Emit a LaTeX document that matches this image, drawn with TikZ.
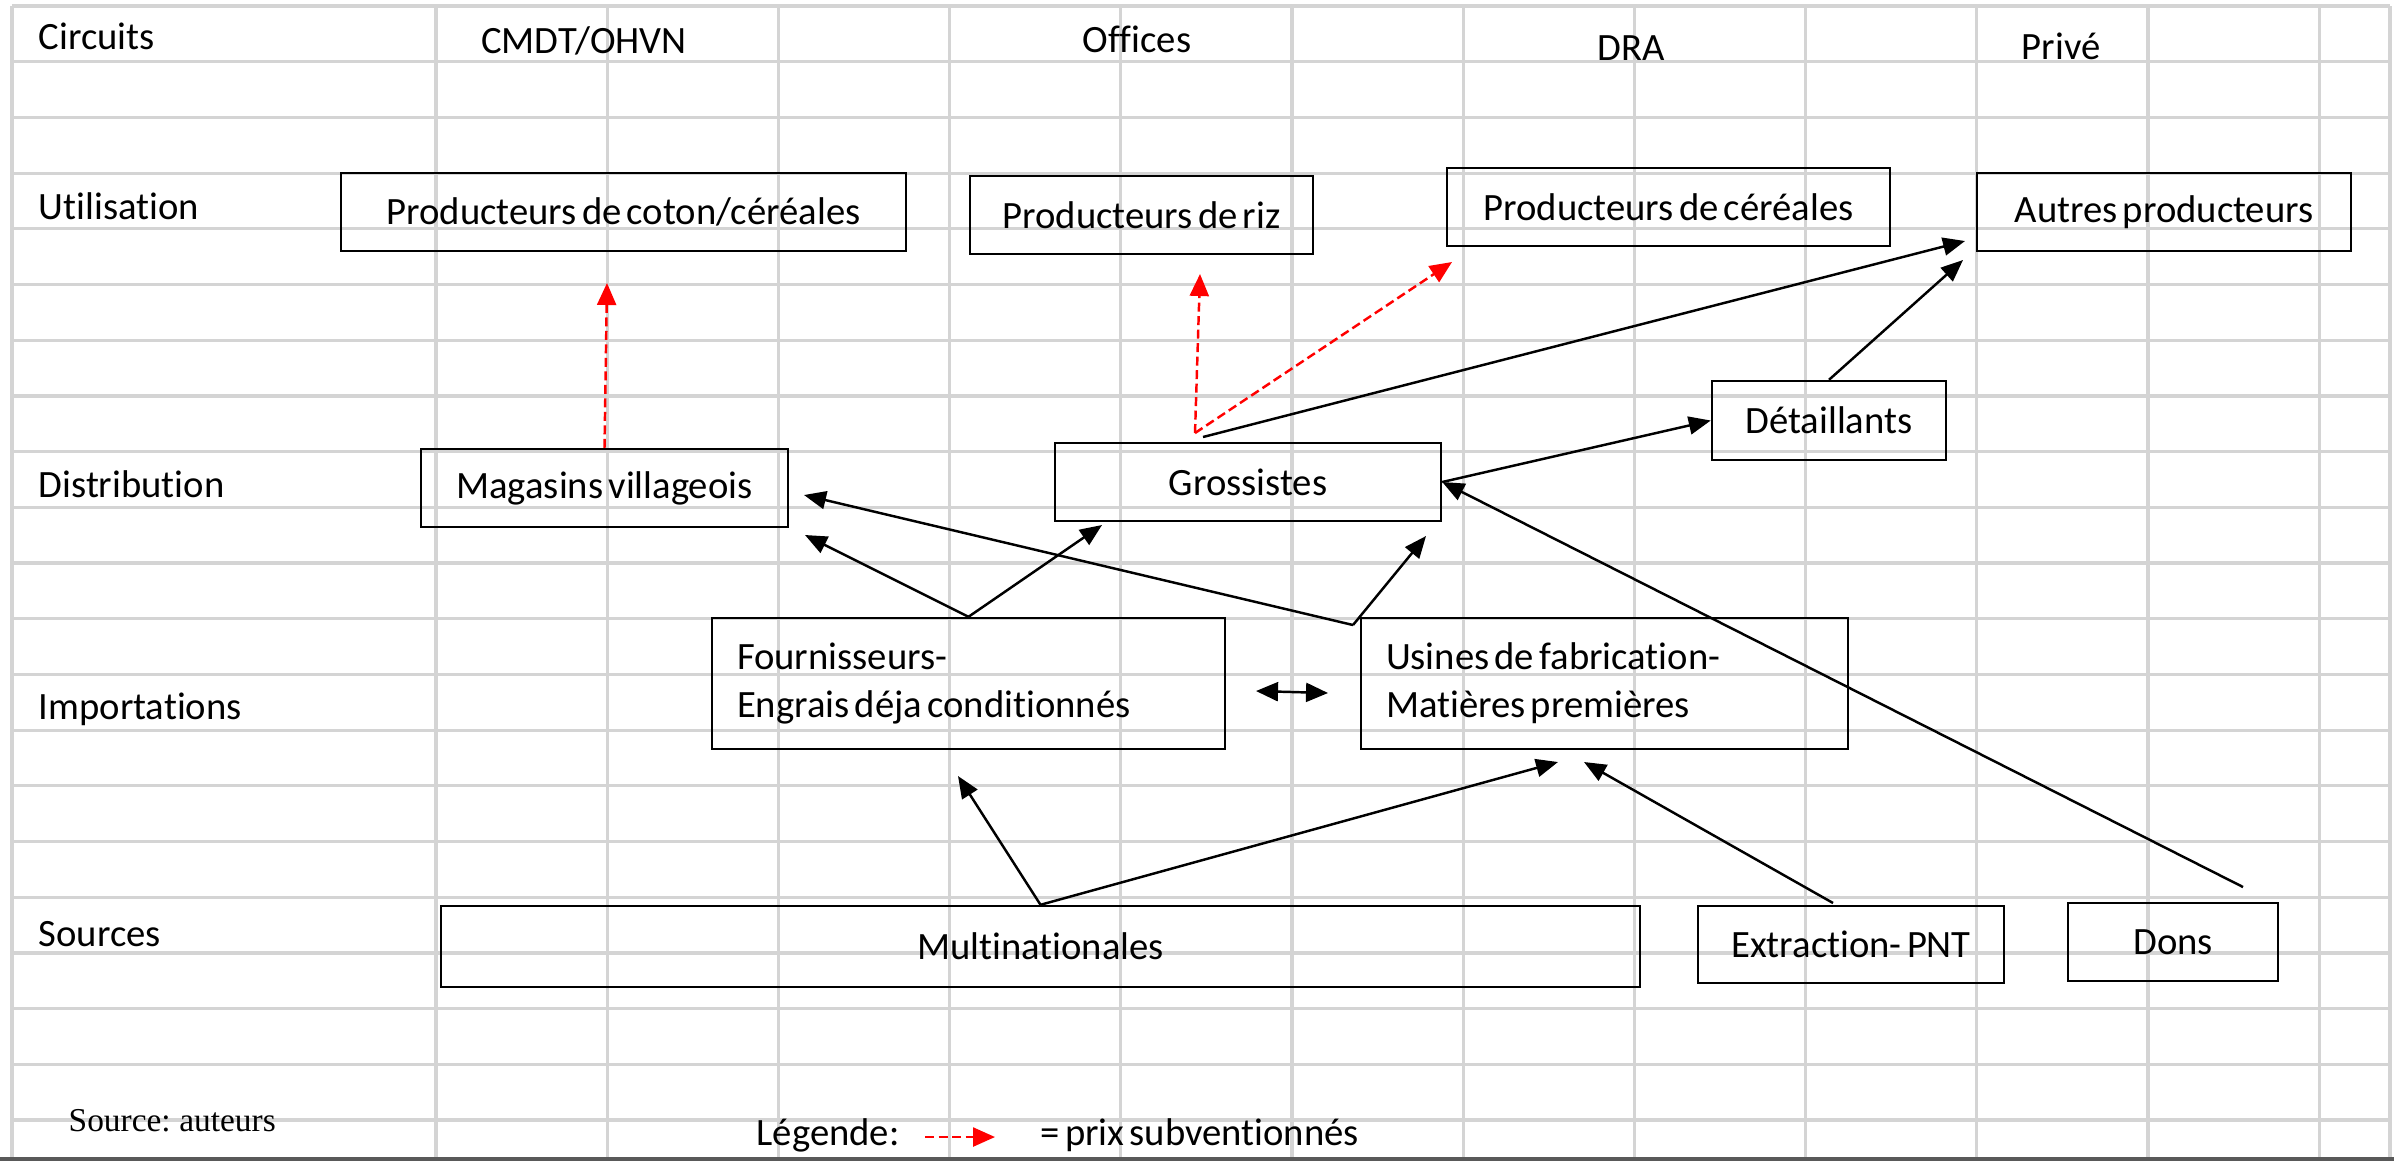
\documentclass[tikz,border=0pt]{standalone}
\usepackage{fontspec}
\setmainfont{Carlito}[Ligatures=NoCommon, WordSpace=0.6]
\newfontfamily\srcfont{Liberation Serif}[WordSpace=0.7]
\usetikzlibrary{arrows.meta}
\definecolor{gridgray}{RGB}{212,212,212}
\tikzset{
  box/.style={draw, line width=0.7pt, inner sep=0pt},
  lbl/.style={inner sep=0pt, anchor=base west},
  flow/.style={-{Triangle[length=2.2mm,width=1.8mm]}, line width=0.7pt},
  subsid/.style={-{Triangle[length=2.2mm,width=1.9mm]}, red, line width=0.7pt,
    dash pattern=on 0.9mm off 0.45mm}
}
\begin{document}
\begin{tikzpicture}[x=0.1mm, y=-0.1mm, font=\fontsize{11}{13.6}\selectfont]
    \useasboundingbox (0,0) rectangle (2394,1164);
    \def\rowh{55.7}
    \def\colw{171.2}
    % spreadsheet grid
    \foreach \k in {0,...,20}
      \draw[gridgray, line width=0.9pt] (12,6+\rowh*\k) -- (2390,6+\rowh*\k);
    \foreach \j in {0,...,11}
      \draw[gridgray, line width=0.9pt] (436+\colw*\j,6) -- (436+\colw*\j,1159);
    \draw[gridgray, line width=0.9pt] (12,6) -- (12,1159);
    \draw[gridgray, line width=0.9pt] (2390,6) -- (2390,1159);
    \draw[black!65, line width=0.9pt] (0,1159) -- (2394,1159);
    % row and column titles
    \node[lbl] (circuits) at (38,49) {Circuits};
    \node[inner sep=0pt, anchor=base] (cmdt) at (584,53) {CMDT/OHVN};
    \node[inner sep=0pt, anchor=base] (offices) at (1137,52) {Offices};
    \node[inner sep=0pt, anchor=base] (dra) at (1631,60) {DRA};
    \node[inner sep=0pt, anchor=base] (prive) at (2061,59) {Privé};
    \node[lbl] (utilisation) at (38,219) {Utilisation};
    \node[lbl] (distribution) at (38,497) {Distribution};
    \node[lbl] (importations) at (38,719) {Importations};
    \node[lbl] (sources) at (38,946) {Sources};
    % utilisation
    \node[box, minimum width=56.5mm, minimum height=7.8mm] (coton) at (623.5,212) {Producteurs de coton/céréales};
    \node[box, minimum width=34.3mm, minimum height=7.8mm] (riz) at (1141.5,215) {Producteurs de riz};
    \node[box, minimum width=44.3mm, minimum height=7.8mm] (cereales) at (1668.5,207) {Producteurs de céréales};
    \node[box, minimum width=37.4mm, minimum height=7.8mm] (autres) at (2164,212) {Autres producteurs};
    % distribution
    \node[box, minimum width=23.4mm, minimum height=7.9mm] (detail) at (1829,420.5) {Détaillants};
    \node[box, minimum width=36.7mm, minimum height=7.8mm] (magasins) at (604.5,488) {Magasins villageois};
    \node[box, minimum width=38.6mm, minimum height=7.8mm] (gros) at (1248,482) {Grossistes};
    % importations
    \node[box, inner xsep=2.5mm, text width=46.3mm, align=left, minimum height=13.1mm] (fourn) at (968.5,683.5)
      {\spaceskip=0pt Fournisseurs-\\Engrais déja conditionnés};
    \node[box, inner xsep=2.5mm, text width=43.7mm, align=left, minimum height=13.1mm] (usines) at (1604.5,683.5)
      {\spaceskip=0pt Usines de fabrication-\\Matières premières};
    % sources
    \node[box, minimum width=119.9mm, minimum height=8.1mm] (multi) at (1040.5,946.5) {Multinationales};
    \node[box, minimum width=30.6mm, minimum height=7.7mm] (extr) at (1851,944.5) {Extraction- PNT};
    \node[box, minimum width=21mm, minimum height=7.8mm] (dons) at (2173,942) {Dons};
    % free ends of the connectors
    \coordinate (Tcoton) at (607,283);
    \coordinate (G1) at (1195,433);
    \coordinate (G2) at (1203,437);
    \coordinate (Triz) at (1200,274);
    \coordinate (Tcer) at (1452,262);
    \coordinate (Taut1) at (1965,241);
    \coordinate (Taut2) at (1963,260);
    \coordinate (Dtop) at (2243,887);
    \coordinate (Tgros1) at (1102,525);
    \coordinate (Tmag1) at (805,535);
    \coordinate (U1) at (1353,625);
    \coordinate (Tmag2) at (804,495);
    \coordinate (Tgros2) at (1426,536);
    \coordinate (Df) at (1256,691);
    \coordinate (Du) at (1328,693);
    \coordinate (Tfourn) at (958,776);
    \coordinate (Tus1) at (1558,762);
    \coordinate (Etop) at (1833,903);
    \coordinate (Tus2) at (1584,762);
    % subsidised prices
    \draw[subsid] (magasins.north) -- (Tcoton);
    \draw[subsid] (G1) -- (Triz);
    \draw[subsid] (G1) -- (Tcer);
    % other flows
    \draw[flow] (G2) -- (Taut1);
    \draw[flow] (detail.north) -- (Taut2);
    \draw[flow] (gros.east) -- (detail.west);
    \draw[flow] (Dtop) -- (gros.east);
    \draw[flow] (fourn.north) -- (Tgros1);
    \draw[flow] (fourn.north) -- (Tmag1);
    \draw[flow] (U1) -- (Tmag2);
    \draw[flow] (U1) -- (Tgros2);
    \draw[{Triangle[length=2.2mm,width=1.9mm]}-{Triangle[length=2.2mm,width=1.9mm]}, line width=0.7pt] (Df) -- (Du);
    \draw[flow] (multi.north) -- (Tfourn);
    \draw[flow] (multi.north) -- (Tus1);
    \draw[flow] (Etop) -- (Tus2);
    % legend and source
    \node[lbl, font=\fontsize{9.5}{11}\srcfont] (src) at (68,1131) {Source: auteurs};
    \node[lbl] (legende) at (756,1145) {Légende:};
    \coordinate (L1) at (925,1137);
    \coordinate (L2) at (995,1137);
    \draw[subsid] (L1) -- (L2);
    \node[lbl] (prix) at (1040,1145) {= prix subventionnés};
\end{tikzpicture}
\end{document}
